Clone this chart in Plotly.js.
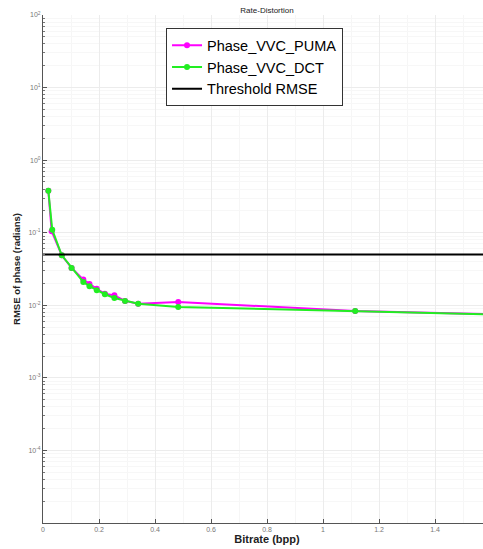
<!DOCTYPE html>
<html>
<head>
<meta charset="utf-8">
<script src="https://cdn.plot.ly/plotly-3.0.1.min.js"></script>
<style>
  html, body { margin: 0; padding: 0; overflow: hidden; background: #fff; }
  #chart { width: 491px; height: 549px; }
</style>
</head>
<body>
<div id="chart"></div>
<script>
// Rate-distortion curves: RMSE of the phase versus bitrate
const bitratePUMA = [0.019, 0.031, 0.067, 0.102, 0.144, 0.166, 0.192, 0.221, 0.255, 0.293, 0.340, 0.483, 1.115, 2.0];
const rmsePUMA    = [0.38, 0.105, 0.0488, 0.0327, 0.0226, 0.0197, 0.0169, 0.0144, 0.0137, 0.0115, 0.0105, 0.0111, 0.00835, 0.0069];

const bitrateDCT  = [0.019, 0.033, 0.067, 0.102, 0.144, 0.166, 0.192, 0.221, 0.255, 0.293, 0.340, 0.483, 1.115, 2.0];
const rmseDCT     = [0.38, 0.11, 0.0488, 0.0327, 0.021, 0.0183, 0.0161, 0.0142, 0.0126, 0.0115, 0.0105, 0.0095, 0.00835, 0.0069];

const thresholdX  = [0, 1.6];
const thresholdY  = [0.05, 0.05];

const xTickVals = [0, 0.2, 0.4, 0.6, 0.8, 1, 1.2, 1.4, 1.6];
const xTickText = ['0', '0.2', '0.4', '0.6', '0.8', '1', '1.2', '1.4', '1.6'];
const yTickVals = [1e-4, 1e-3, 1e-2, 1e-1, 1e0, 1e1, 1e2];
const yTickText = ['10<sup>-4</sup>', '10<sup>-3</sup>', '10<sup>-2</sup>', '10<sup>-1</sup>',
                   '10<sup>0</sup>', '10<sup>1</sup>', '10<sup>2</sup>'];

const FONT = 'Liberation Sans, Arial, sans-serif';

const traces = [
  {
    x: bitratePUMA, y: rmsePUMA, name: 'Phase_VVC_PUMA',
    type: 'scatter', mode: 'lines+markers',
    line: { color: '#ff00ff', width: 2 },
    marker: { color: '#ff00ff', size: 6 }
  },
  {
    x: bitrateDCT, y: rmseDCT, name: 'Phase_VVC_DCT',
    type: 'scatter', mode: 'lines+markers',
    line: { color: '#22ee22', width: 2 },
    marker: { color: '#22ee22', size: 6 }
  },
  {
    x: thresholdX, y: thresholdY, name: 'Threshold RMSE',
    type: 'scatter', mode: 'lines',
    line: { color: '#000000', width: 2 }
  }
];

const layout = {
  width: 491, height: 549,
  margin: { l: 43, r: 0, t: 15, b: 26 },
  paper_bgcolor: '#ffffff', plot_bgcolor: '#ffffff',
  font: { family: FONT, color: '#333' },
  showlegend: true,
  title: {
    text: 'Rate-Distortion',
    font: { family: FONT, size: 8, color: '#222' },
    x: 0.5, xref: 'paper', xanchor: 'center',
    y: 1 - 10 / 549, yref: 'container', yanchor: 'middle'
  },
  legend: {
    x: 0.2746, y: 0.974, xanchor: 'left', yanchor: 'top',
    bgcolor: '#ffffff', bordercolor: '#333', borderwidth: 1,
    font: { family: FONT, size: 14.5, color: '#000' },
    tracegroupgap: 0
  },
  xaxis: {
    range: [0, 1.6],
    tickvals: xTickVals, ticktext: xTickText,
    ticks: 'inside', ticklen: 4, tickcolor: '#555',
    tickfont: { family: FONT, size: 7, color: '#777' },
    showline: true, linecolor: '#555', linewidth: 1,
    showgrid: true, gridcolor: '#ececec', gridwidth: 1,
    minor: { dtick: 0.1, showgrid: true, gridcolor: '#f6f6f6', ticks: '' },
    zeroline: false,
    title: { text: 'Bitrate (bpp)', standoff: 2,
             font: { family: FONT, size: 11, color: '#222', weight: 'bold' } }
  },
  yaxis: {
    type: 'log', range: [-5, 2],
    tickvals: yTickVals, ticktext: yTickText,
    ticks: 'inside', ticklen: 4, tickcolor: '#555',
    tickfont: { family: FONT, size: 7, color: '#777' },
    showline: true, linecolor: '#555', linewidth: 1,
    showgrid: true, gridcolor: '#ececec', gridwidth: 1,
    minor: { dtick: 'D1', ticks: 'inside', ticklen: 2, tickcolor: '#777',
             showgrid: true, gridcolor: '#f7f7f7' },
    zeroline: false,
    title: { text: 'RMSE of phase (radians)', standoff: 6,
             font: { family: FONT, size: 9.5, color: '#222', weight: 'bold' } }
  }
};

Plotly.newPlot('chart', traces, layout, { displayModeBar: false, staticPlot: true });
</script>
</body>
</html>
